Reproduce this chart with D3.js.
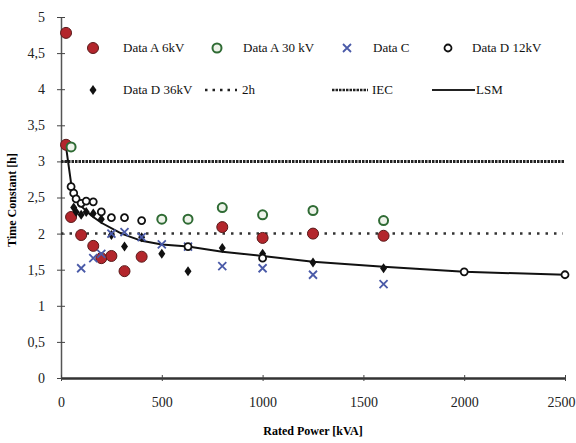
<html>
<head>
<style>
  body { margin: 0; background: #fff; }
  text { font-family: "Liberation Serif", "DejaVu Serif", serif; }
</style>
</head>
<body>
<script src="https://d3js.org/d3.v7.min.js"></script>
<svg id="chart" width="576" height="443"></svg>
<script>
// values: [rated power kVA, time constant h]
var dataA6 = [[25,4.78],[25,3.23],[50,2.23],[100,1.98],[160,1.83],[200,1.66],[250,1.69],[315,1.48],[400,1.68],[800,2.09],[1000,1.94],[1250,2.0],[1600,1.97]];
var dataA30 = [[50,3.2],[500,2.2],[630,2.2],[800,2.36],[1000,2.26],[1250,2.32],[1600,2.18]];
var dataC = [[100,1.52],[160,1.66],[200,1.72],[250,2.0],[315,2.02],[400,1.95],[500,1.85],[630,1.82],[800,1.55],[1000,1.52],[1250,1.43],[1600,1.3]];
var dataD12 = [[50,2.65],[63,2.56],[75,2.48],[100,2.42],[125,2.45],[160,2.44],[200,2.3],[250,2.22],[315,2.22],[400,2.18],[630,1.82],[1000,1.66],[2000,1.47],[2500,1.43]];
var dataD36 = [[63,2.36],[75,2.3],[100,2.26],[125,2.3],[160,2.28],[200,2.2],[250,1.98],[315,1.82],[400,1.95],[500,1.72],[630,1.48],[800,1.8],[1000,1.72],[1250,1.6],[1600,1.52]];
var lsm = [[25,3.2],[50,2.7],[75,2.5],[100,2.38],[150,2.25],[200,2.15],[300,2.0],[400,1.9],[500,1.85],[630,1.82],[800,1.75],[1000,1.69],[1250,1.61],[1600,1.54],[2000,1.47],[2500,1.43]];
var level2h = 2;
var levelIEC = 3;
var xTicks = [0,500,1000,1500,2000,2500];
var yTicks = [0,0.5,1,1.5,2,2.5,3,3.5,4,4.5,5];

var svg = d3.select("#chart");
var x = d3.scaleLinear().domain([0,2500]).range([61,565]);
var y = d3.scaleLinear().domain([0,5]).range([378,17]);
var fmt = function(d){ return String(d).replace(".", ","); };

// axes
var yAxis = svg.append("g").attr("transform","translate(61,0)")
  .call(d3.axisLeft(y).tickValues(yTicks).tickFormat(fmt).tickSizeInner(4).tickSizeOuter(0).tickPadding(12));
yAxis.selectAll(".tick line").attr("x2", 4).attr("x1", -4).attr("stroke","#444");
yAxis.select(".domain").attr("stroke","#555").attr("stroke-width",1.5);
yAxis.selectAll("text").style("font-size","14px").attr("fill","#222");

var xAxis = svg.append("g").attr("transform","translate(0,378)")
  .call(d3.axisBottom(x).tickValues(xTicks).tickFormat(d3.format("d")).tickSizeInner(3).tickSizeOuter(0).tickPadding(16));
xAxis.selectAll(".tick line").attr("y1",-3).attr("y2",3).attr("stroke","#444");
xAxis.select(".domain").attr("stroke","#333").attr("stroke-width",2.5);
xAxis.selectAll("text").style("font-size","14px").attr("fill","#222");
// last label would run past the right edge
xAxis.selectAll(".tick").filter(function(d){ return d === 2500; }).select("text")
  .attr("text-anchor","end").attr("x", 10);

svg.append("text").attr("transform","translate(16,200) rotate(-90)")
  .attr("text-anchor","middle").style("font-size","12px").style("font-weight","bold")
  .text("Time Constant [h]");
svg.append("text").attr("x",313).attr("y",435)
  .attr("text-anchor","middle").style("font-size","12px").style("font-weight","bold")
  .text("Rated Power [kVA]");

// reference lines
svg.append("line").attr("x1",x(0)).attr("x2",x(2500)).attr("y1",y(levelIEC)).attr("y2",y(levelIEC))
  .attr("stroke","#222").attr("stroke-width",3).attr("stroke-dasharray","2.5,1");
svg.append("line").attr("x1",x(0)).attr("x2",x(2490)).attr("y1",y(level2h)).attr("y2",y(level2h))
  .attr("stroke","#333").attr("stroke-width",2.5).attr("stroke-dasharray","2.5,6");

// LSM line
svg.append("path").datum(lsm)
  .attr("d", d3.line().x(function(d){return x(d[0]);}).y(function(d){return y(d[1]);}))
  .attr("fill","none").attr("stroke","#111").attr("stroke-width",2);

// markers
function redCircle(g){ g.append("circle").attr("r",5.5).attr("fill","#b3262c").attr("stroke","#5a1a1a").attr("stroke-width",1); }
function greenCircle(g){ g.append("circle").attr("r",4.5).attr("fill","#eef3ea").attr("stroke","#2f6b34").attr("stroke-width",2); }
function blueX(g){ g.append("path").attr("d","M-4,-4L4,4M-4,4L4,-4").attr("stroke","#4a5aa8").attr("stroke-width",1.8); }
function smallCircle(g){ g.append("circle").attr("r",3.5).attr("fill","#fff").attr("stroke","#111").attr("stroke-width",1.8); }
function diamond(g){ g.append("path").attr("d","M0,-5L3.5,0L0,5L-3.5,0Z").attr("fill","#111"); }

function plot(data, draw){
  svg.append("g").selectAll("g").data(data).enter().append("g")
    .attr("transform", function(d){ return "translate(" + x(d[0]) + "," + y(d[1]) + ")"; })
    .each(function(){ draw(d3.select(this)); });
}
plot(dataA6, redCircle);
plot(dataA30, greenCircle);
plot(dataD36, diamond);
plot(dataC, blueX);
plot(dataD12, smallCircle);

// legend
var legend = [
  {label:"Data A 6kV", mx:93, tx:123, ty:52, draw:redCircle},
  {label:"Data A 30 kV", mx:217, tx:243, ty:52, draw:greenCircle},
  {label:"Data C", mx:347, tx:373, ty:52, draw:blueX},
  {label:"Data D 12kV", mx:448, tx:472, ty:52, draw:smallCircle},
  {label:"Data D 36kV", mx:93, tx:123, ty:94, draw:diamond},
  {label:"2h", line:[205,237], dash:"2.5,5", w:2.5, tx:242, ty:94},
  {label:"IEC", line:[332,368], dash:"2.5,1", w:2.5, tx:372, ty:94},
  {label:"LSM", line:[432,475], dash:null, w:2, tx:476, ty:94}
];
legend.forEach(function(l){
  if (l.draw) {
    var g = svg.append("g").attr("transform","translate(" + l.mx + "," + (l.ty-4) + ")");
    l.draw(g);
  } else {
    svg.append("line").attr("x1",l.line[0]).attr("x2",l.line[1]).attr("y1",l.ty-4).attr("y2",l.ty-4)
      .attr("stroke","#222").attr("stroke-width",l.w).attr("stroke-dasharray",l.dash);
  }
  svg.append("text").attr("x",l.tx).attr("y",l.ty).style("font-size","13px").attr("fill","#111").text(l.label);
});
</script>
</body>
</html>
